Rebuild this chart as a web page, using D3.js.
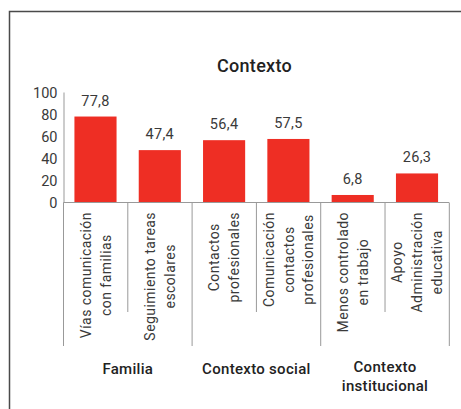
<!DOCTYPE html>
<html>
<head>
<meta charset="utf-8">
<script src="https://d3js.org/d3.v7.min.js"></script>
<style>
  body { margin: 0; background: #fff; }
  svg text { font-family: Roboto, "DejaVu Sans", sans-serif; }
</style>
</head>
<body>
<div id="chart"></div>
<script>
// chart data
var categories = [
  ["Vías comunicación", "con familias"],
  ["Seguimiento tareas", "escolares"],
  ["Contactos", "profesionales"],
  ["Comunicación", "contactos", "profesionales"],
  ["Menos controlado", "en trabajo"],
  ["Apoyo", "Administración", "educativa"]
];
var values = [77.8, 47.4, 56.4, 57.5, 6.8, 26.3];
var groups = [["Familia"], ["Contexto social"], ["Contexto", "institucional"]];
var groupOf = [0, 0, 1, 1, 2, 2];
var yTicks = [0, 20, 40, 60, 80, 100];

var width = 461, height = 409;
var svg = d3.select("#chart").append("svg").attr("width", width).attr("height", height);

// frame
svg.append("rect")
  .attr("x", 9.5).attr("y", 11.5).attr("width", 500).attr("height", 500)
  .attr("fill", "none").attr("stroke", "#4a4a4a").attr("stroke-width", 1.5);

// title
svg.append("text")
  .attr("x", 254.5).attr("y", 72)
  .attr("text-anchor", "middle")
  .style("font-size", "18px").style("font-weight", 500).style("fill", "#222")
  .style("letter-spacing", "0.3px")
  .text("Contexto");

var x = d3.scaleBand().domain(d3.range(values.length)).range([63.5, 449]).paddingInner(0.345).paddingOuter(0.17);
var step = x.step();
var y = d3.scaleLinear().domain([0, 100]).range([202.5, 92]);

// y axis
var yAxis = svg.append("g").attr("transform", "translate(63.5,0)")
  .call(d3.axisLeft(y).tickValues(yTicks).tickSize(0).tickPadding(6));
yAxis.select(".domain").attr("stroke", "#999");
yAxis.selectAll("text").style("font-size", "14.5px").style("fill", "#3a3a3a").attr("dy", "0.36em");

// bars
svg.selectAll("rect.bar").data(values).enter().append("rect")
  .attr("class", "bar")
  .attr("x", function(d, i) { return x(i); })
  .attr("width", x.bandwidth())
  .attr("y", function(d) { return y(d); })
  .attr("height", function(d) { return y(0) - y(d); })
  .attr("fill", "#ee2e24");

// value labels
svg.selectAll("text.val").data(values).enter().append("text")
  .attr("class", "val")
  .attr("x", function(d, i) { return x(i) + x.bandwidth() / 2; })
  .attr("y", function(d) { return y(d) - 11; })
  .attr("text-anchor", "middle")
  .style("font-size", "14.5px").style("fill", "#3a3a3a").style("letter-spacing", "0.3px")
  .text(function(d) { return d.toFixed(1).replace(".", ","); });

// baseline
var x0 = 63.5, x1 = 449;
svg.append("line").attr("x1", x0).attr("x2", x1).attr("y1", y(0)).attr("y2", y(0))
  .attr("stroke", "#999").attr("stroke-width", 1);

// separators
var xStart = x.range()[0];
d3.range(values.length + 1).forEach(function(i) {
  var xx = xStart + i * step;
  var isGroup = (i === 0 || i === values.length || groupOf[i] !== groupOf[i - 1]);
  svg.append("line").attr("x1", xx).attr("x2", xx)
    .attr("y1", y(0)).attr("y2", isGroup ? 346 : 312)
    .attr("stroke", "#999").attr("stroke-width", 1);
});

// category labels (rotated, lines centred, block top-aligned)
categories.forEach(function(lines, i) {
  var cx = xStart + (i + 0.5) * step;
  var g = svg.append("g");
  var texts = lines.map(function(l, j) {
    return g.append("text")
      .attr("text-anchor", "middle")
      .style("font-size", "14px").style("fill", "#3a3a3a")
      .style("letter-spacing", "0.45px")
      .text(l);
  });
  var maxLen = d3.max(texts, function(t) { return t.node().getComputedTextLength(); });
  var cy = 212 + maxLen / 2;
  var lh = 19.8;
  texts.forEach(function(t, j) {
    var off = (j - (lines.length - 1) / 2) * lh;
    t.attr("transform", "translate(" + (cx + off + 5) + "," + cy + ") rotate(-90)");
  });
});

// group labels
groups.forEach(function(lines, gi) {
  var idx = d3.range(values.length).filter(function(i) { return groupOf[i] === gi; });
  var cx = xStart + (idx[0] + idx[idx.length - 1] + 1) / 2 * step;
  var top = lines.length > 1 ? 372 : 374;
  lines.forEach(function(l, j) {
    svg.append("text")
      .attr("x", cx).attr("y", top + j * 18.5)
      .attr("text-anchor", "middle")
      .style("font-size", "15px").style("font-weight", 500).style("fill", "#222")
      .style("letter-spacing", "0.3px")
      .text(l);
  });
});
</script>
</body>
</html>
